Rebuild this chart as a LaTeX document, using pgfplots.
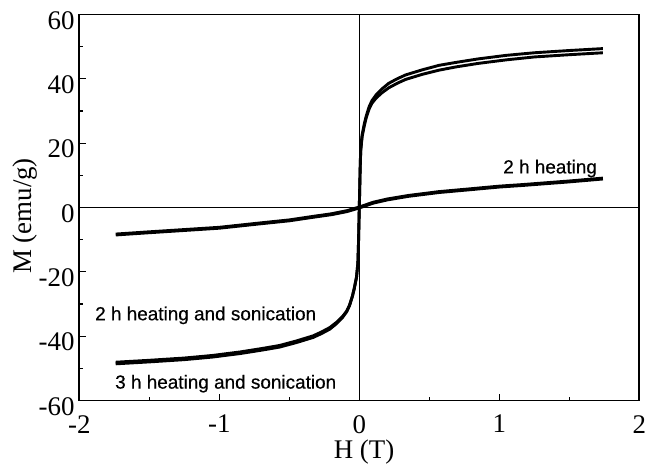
\documentclass[border=0pt]{standalone}
\usepackage{fontspec}
\setmainfont{Liberation Serif}
\newfontfamily\labelfont{Liberation Sans}[FakeBold=0.5]
\usepackage{pgfplots}
\pgfplotsset{compat=1.18}

% Magnetisation loops, H in tesla, M in emu/g
\pgfplotstableread{
H      M
-1.74 -48.6
-1.50 -48.0
-1.25 -47.3
-1.05 -46.5
-0.85 -45.4
-0.69 -44.3
-0.57 -43.4
-0.45 -42.0
-0.33 -40.4
-0.27 -39.2
-0.21 -37.8
-0.16 -36.0
-0.12 -34.2
-0.09 -32.4
-0.07 -30.5
-0.05 -27.7
-0.036 -25.2
-0.02 -21.7
-0.01 -17.2
-0.006 -11.5
-0.003 -5.8
0.0     0.0
0.003   6.0
0.006  12.0
0.01   18.0
0.02   22.5
0.036  26.0
0.05   28.5
0.07   31.3
0.09   33.2
0.12   35.0
0.16   36.8
0.21   38.6
0.27   40.0
0.33   41.2
0.45   42.8
0.57   44.2
0.69   45.1
0.85   46.2
1.05   47.3
1.25   48.1
1.50   48.8
1.74   49.4
}\threehsonic

\pgfplotstableread{
H      M
-1.74 -48.1
-1.50 -47.5
-1.25 -46.8
-1.05 -46.0
-0.85 -44.9
-0.69 -43.8
-0.57 -42.9
-0.45 -41.5
-0.33 -39.9
-0.27 -38.7
-0.21 -37.3
-0.16 -35.6
-0.12 -33.9
-0.09 -32.2
-0.07 -30.4
-0.05 -27.7
-0.036 -25.2
-0.02 -21.7
-0.01 -17.2
-0.006 -11.5
-0.003 -5.8
0.0     0.0
0.003   5.9
0.006  11.7
0.01   17.5
0.02   22.0
0.036  25.5
0.05   28.0
0.07   30.6
0.09   32.4
0.12   34.0
0.16   35.6
0.21   37.2
0.27   38.6
0.33   39.8
0.45   41.4
0.57   42.7
0.69   43.7
0.85   44.8
1.05   45.9
1.25   46.8
1.50   47.5
1.74   48.1
}\twohsonic

\pgfplotstableread{
H      M
-1.74 -8.4
-1.50 -7.7
-1.25 -7.0
-1.00 -6.3
-0.70 -4.9
-0.50 -4.0
-0.33 -2.9
-0.20 -2.1
-0.09 -1.15
0.0    0.0
0.10   1.5
0.20   2.5
0.35   3.6
0.57   4.8
0.80   5.7
1.00   6.5
1.17   7.0
1.50   8.1
1.74   9.0
}\twohheat

\begin{document}
\begin{tikzpicture}
\path[use as bounding box] (-79.3bp,-70.5bp) rectangle (567.7bp,400.5bp);
\begin{axis}[
  at={(0,0)}, anchor=south west,
  scale only axis,
  width=560bp, height=386bp,
  xmin=-2, xmax=2, ymin=-60, ymax=60,
  xtick={-2,-1,0,1,2},
  xticklabels={-2,-1,0,1,2},
  ytick={-60,-40,-20,0,20,40,60},
  yticklabels={-60,-40,-20,0,20,40,60},
  minor x tick num=1, minor y tick num=1,
  tick pos=left,
  tick align=inside,
  major tick length=7bp, minor tick length=4bp,
  every tick/.style={line width=1.2bp, black},
  axis line style={line width=1.8bp},
  ticklabel style={font=\fontsize{27}{30}\selectfont, inner sep=0pt},
  xticklabel style={anchor=north, yshift=-14.5bp},
  yticklabel style={anchor=east, xshift=-4.5bp, yshift=-6bp},
  xlabel={H (T)},
  ylabel={M (emu/g)},
  label style={font=\fontsize{27}{30}\selectfont, inner sep=0pt},
  xlabel style={at={(axis description cs:0.5084,-0.151)}, anchor=base},
  ylabel style={at={(axis description cs:-0.0845,0.478)}, anchor=base},
  clip=false,
]
% zero lines through the origin
\addplot[black, line width=1.4bp] coordinates {(-2,0) (2,0)};
\addplot[black, line width=1.4bp] coordinates {(0,-60) (0,60)};

\addplot[black, line width=2.9bp, line join=round] table[x=H, y=M] {\threehsonic};
\addplot[black, line width=2.9bp, line join=round] table[x=H, y=M] {\twohsonic};
\addplot[black, line width=3.8bp, line join=round] table[x=H, y=M] {\twohheat};

\node[font=\labelfont\fontsize{19}{22}\selectfont, anchor=base west, inner sep=0pt]
  at (axis cs:1.027,10.6) {2 h heating};
\node[font=\labelfont\fontsize{19}{22}\selectfont, anchor=base west, inner sep=0pt]
  at (axis cs:-1.888,-35.05) {2 h heating and sonication};
\node[font=\labelfont\fontsize{19}{22}\selectfont, anchor=base west, inner sep=0pt]
  at (axis cs:-1.745,-56.3) {3 h heating and sonication};
\end{axis}
\end{tikzpicture}
\end{document}
